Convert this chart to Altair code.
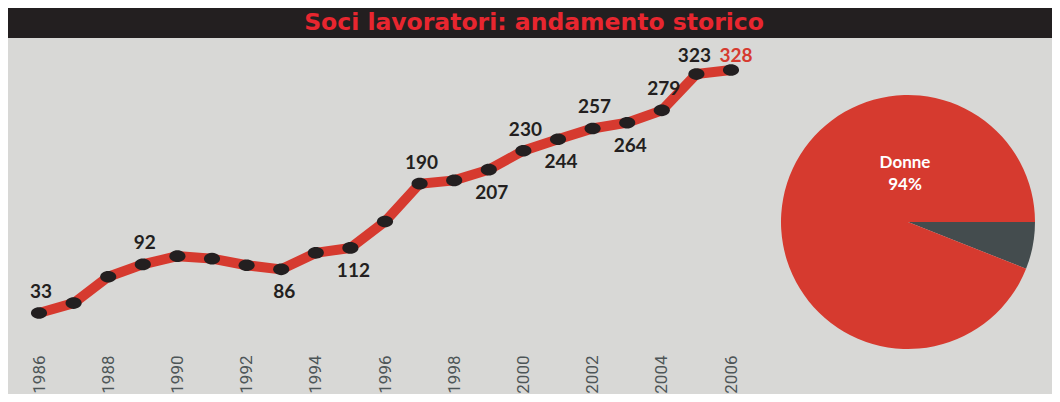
import altair as alt
import pandas as pd
import math

# ---- data ----
years = list(range(1986, 2007))
soci = [33, 45, 77, 92, 102, 99, 91, 86, 106, 112, 144, 190, 194, 207, 230, 244, 257, 264, 279, 323, 328]
labels_above = [1986, 1989, 1997, 2000, 2002, 2004]
labels_top = [2005]
labels_last = [2006]
labels_below = [1993, 1995, 1999, 2001, 2003]
tick_years = [1986, 1988, 1990, 1992, 1994, 1996, 1998, 2000, 2002, 2004, 2006]

pie_cat = ["Uomini", "Donne"]
pie_pct = [6, 94]

title_text = "Soci lavoratori: andamento storico"

RED = "#d63a2f"
DARK = "#231f20"
SLATE = "#444c4e"
BG = "#d8d8d6"
W, H = 1044, 386

df = pd.DataFrame({"year": years, "soci": soci})
df_above = df[df.year.isin(labels_above)]
df_top = df[df.year.isin(labels_top)]
df_last = df[df.year.isin(labels_last)]
df_below = df[df.year.isin(labels_below)]
df_pie = pd.DataFrame({"cat": pie_cat, "pct": pie_pct, "ord": list(range(len(pie_cat)))})
df_title = pd.DataFrame({"t": [title_text]})

xs = alt.Scale(domain=[1986, 2006], range=[31, 723])
ys = alt.Scale(domain=[33, 328], range=[305, 62])

X = alt.X("year:Q", scale=xs,
          axis=alt.Axis(values=tick_years, format="d", labelAngle=270, labelAlign="right",
                        labelBaseline="middle", domain=False, ticks=False, grid=False,
                        title=None, offset=-39, labelPadding=0,
                        labelFont="Roboto, sans-serif", labelFontWeight="normal",
                        labelFontSize=17, labelColor="#4d5557", labelFlush=False,
                        labelOverlap=False))
Y = alt.Y("soci:Q", scale=ys, axis=None)

band = alt.Chart(df_title).mark_rect(color=DARK).encode(
    x=alt.value(0), x2=alt.value(W), y=alt.value(0), y2=alt.value(30))
title = alt.Chart(df_title).mark_text(
    font="DejaVu Sans, sans-serif", fontWeight="bold",
    fontSize=23.5, color="#e8262f", align="center", baseline="middle").encode(
    x=alt.value(526), y=alt.value(15), text="t:N")

line = alt.Chart(df).mark_line(color=RED, strokeWidth=10).encode(x=X, y=Y)
ellipse = "M-1,0A1,0.72,0,1,1,1,0A1,0.72,0,1,1,-1,0Z"
pts = alt.Chart(df).mark_point(shape=ellipse, size=260, filled=True, color=DARK, opacity=1).encode(x=X, y=Y)

lab_font = "Lato, Open Sans, sans-serif"


def labels(d, dx, dy, color=DARK):
    return alt.Chart(d).mark_text(font=lab_font, fontWeight="bold", fontSize=19,
                                  dx=dx, dy=dy, baseline="middle", color=color).encode(
        x=X, y=Y, text="soci:Q")


above = labels(df_above, 2, -21)
top = labels(df_top, -2, -18)
last = labels(df_last, 5, -14, RED)
below = labels(df_below, 3, 23)

pie = alt.Chart(df_pie).mark_arc(radius=127).encode(
    theta=alt.Theta("pct:Q", stack=True,
                    scale=alt.Scale(range=[math.pi / 2, math.pi / 2 + 2 * math.pi])),
    order=alt.Order("ord:Q"),
    color=alt.Color("cat:N", scale=alt.Scale(domain=pie_cat, range=[SLATE, RED]), legend=None),
    x=alt.value(900), y=alt.value(214))

pie_lab = alt.Chart(df_pie[df_pie.cat == "Donne"]).transform_calculate(
    lab="[datum.cat, datum.pct + '%']").mark_text(
    font=lab_font, fontWeight="bold", fontSize=17, color="white", align="center",
    baseline="middle", lineHeight=22).encode(
    x=alt.value(897), y=alt.value(155), text="lab:N")

chart = alt.layer(band, title, line, pts, above, top, last, below, pie, pie_lab).properties(
    width=W, height=H, padding=0, autosize="none", background=BG
).configure_view(stroke=None)

chart.save("out.html", embed_options={"renderer": "svg", "actions": False})
